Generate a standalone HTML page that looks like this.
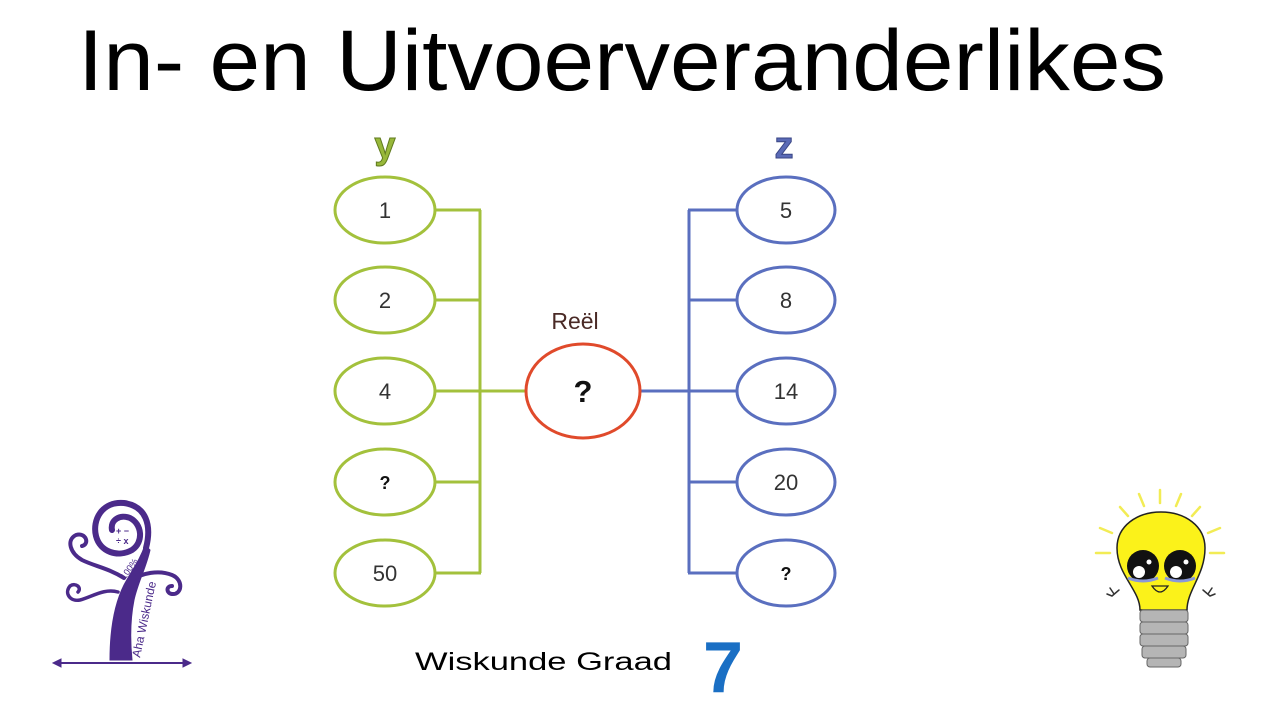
<!DOCTYPE html>
<html>
<head>
<meta charset="utf-8">
<style>
html,body{margin:0;padding:0;background:#fff;}
svg{display:block;}
text{font-family:"Liberation Sans",sans-serif;}
</style>
</head>
<body>
<svg width="1280" height="720" viewBox="0 0 1280 720" xmlns="http://www.w3.org/2000/svg">
<rect width="1280" height="720" fill="#fff"/>

<!-- Title -->
<text x="78" y="90" font-size="86" fill="#000" textLength="1088" lengthAdjust="spacingAndGlyphs">In- en Uitvoerveranderlikes</text>

<!-- Column labels -->
<text x="385" y="158" font-size="38" font-weight="bold" fill="#98b83a" stroke="#5f7a1e" stroke-width="1" text-anchor="middle">y</text>
<text x="784" y="158" font-size="38" font-weight="bold" fill="#5a6ab6" stroke="#3a4685" stroke-width="1" text-anchor="middle">z</text>

<!-- Green connectors -->
<g stroke="#a3c13c" stroke-width="3" fill="none">
  <line x1="480" y1="210" x2="480" y2="573"/>
  <line x1="435" y1="210" x2="481" y2="210"/>
  <line x1="435" y1="300" x2="481" y2="300"/>
  <line x1="435" y1="391" x2="526" y2="391"/>
  <line x1="435" y1="482" x2="481" y2="482"/>
  <line x1="435" y1="573" x2="481" y2="573"/>
</g>
<!-- Blue connectors -->
<g stroke="#5a6fbf" stroke-width="3" fill="none">
  <line x1="689" y1="210" x2="689" y2="573"/>
  <line x1="688" y1="210" x2="738" y2="210"/>
  <line x1="688" y1="300" x2="738" y2="300"/>
  <line x1="641" y1="391" x2="738" y2="391"/>
  <line x1="688" y1="482" x2="738" y2="482"/>
  <line x1="688" y1="573" x2="738" y2="573"/>
</g>

<!-- Left ellipses -->
<g stroke="#a3c13c" stroke-width="3" fill="#fff">
  <ellipse cx="385" cy="210" rx="50" ry="33"/>
  <ellipse cx="385" cy="300" rx="50" ry="33"/>
  <ellipse cx="385" cy="391" rx="50" ry="33"/>
  <ellipse cx="385" cy="482" rx="50" ry="33"/>
  <ellipse cx="385" cy="573" rx="50" ry="33"/>
</g>
<!-- Right ellipses -->
<g stroke="#5a6fbf" stroke-width="3" fill="#fff">
  <ellipse cx="786" cy="210" rx="49" ry="33"/>
  <ellipse cx="786" cy="300" rx="49" ry="33"/>
  <ellipse cx="786" cy="391" rx="49" ry="33"/>
  <ellipse cx="786" cy="482" rx="49" ry="33"/>
  <ellipse cx="786" cy="573" rx="49" ry="33"/>
</g>
<!-- Center ellipse -->
<ellipse cx="583" cy="391" rx="57" ry="47" stroke="#e04a2b" stroke-width="3" fill="#fff"/>

<!-- Labels -->
<g font-size="22" fill="#333" text-anchor="middle">
  <text x="385" y="218">1</text>
  <text x="385" y="308">2</text>
  <text x="385" y="399">4</text>
  <text x="385" y="581">50</text>
  <text x="786" y="218">5</text>
  <text x="786" y="308">8</text>
  <text x="786" y="399">14</text>
  <text x="786" y="490">20</text>
</g>
<text x="385" y="489" font-size="18" font-weight="bold" fill="#111" text-anchor="middle">?</text>
<text x="786" y="580" font-size="18" font-weight="bold" fill="#111" text-anchor="middle">?</text>
<text x="583" y="402" font-size="31" font-weight="bold" fill="#111" text-anchor="middle">?</text>
<text x="575" y="329" font-size="23" fill="#4a2a26" text-anchor="middle">Reël</text>

<!-- Bottom text -->
<text x="415" y="670" font-size="25" fill="#000" textLength="257" lengthAdjust="spacingAndGlyphs">Wiskunde Graad</text>
<text x="703" y="692" font-size="72" font-weight="bold" fill="#1a6fc4">7</text>

<!-- Tree logo -->
<g stroke="#4b2a8a" fill="none" stroke-linecap="round">
  <line x1="55" y1="663" x2="189" y2="663" stroke-width="2"/>
  <path d="M53 663 l8 -4 v8 z M191 663 l-8 -4 v8 z" fill="#4b2a8a" stroke-width="1"/>
  <!-- trunk (filled shape) -->
  <path d="M110 660 C110 630 114 605 124 585 C132 570 140 560 145 545 L150 550 C146 568 138 582 134 600 C130 620 130 640 132 660 Z" fill="#4b2a8a" stroke-width="1"/>
  <!-- big spiral -->
  <path d="M146 548 C152 525 146 506 124 503 C102 501 92 520 96 536 C100 552 118 558 132 550 C144 542 142 524 130 518 C120 514 110 520 112 530" stroke-width="6"/>
  <!-- left upper curl -->
  <path d="M124 578 C108 568 94 566 82 560 C70 553 66 540 76 535 C86 532 90 544 82 546" stroke-width="4"/>
  <!-- bottom left curl -->
  <path d="M118 592 C104 588 92 597 80 600 C70 602 64 593 70 586 C76 582 82 588 78 592" stroke-width="3.5"/>
  <!-- right curl -->
  <path d="M128 582 C142 572 160 570 172 575 C184 580 182 595 172 594 C166 593 166 586 172 586" stroke-width="4"/>
</g>
<text x="116" y="534" font-size="9" font-weight="bold" fill="#4b2a8a">+ −</text>
<text x="116" y="544" font-size="9" font-weight="bold" fill="#4b2a8a">÷ x</text>
<text transform="translate(140,658) rotate(-78)" font-size="12" fill="#4b2a8a">Aha Wiskunde</text>
<text transform="translate(125,580) rotate(-55)" font-size="9" fill="#4b2a8a">100%</text>

<!-- Lightbulb -->
<g stroke="#f2ec55" stroke-width="2.5" stroke-linecap="round">
  <line x1="1160" y1="490" x2="1160" y2="503"/>
  <line x1="1139" y1="494" x2="1144" y2="506"/>
  <line x1="1181" y1="494" x2="1176" y2="506"/>
  <line x1="1120" y1="507" x2="1128" y2="516"/>
  <line x1="1200" y1="507" x2="1192" y2="516"/>
  <line x1="1100" y1="528" x2="1112" y2="533"/>
  <line x1="1220" y1="528" x2="1208" y2="533"/>
  <line x1="1096" y1="553" x2="1110" y2="553"/>
  <line x1="1224" y1="553" x2="1210" y2="553"/>
</g>
<path d="M1140 610 C1140 590 1117 575 1117 548 C1117 526 1137 512 1161 512 C1185 512 1205 526 1205 548 C1205 575 1187 590 1187 610 Z" fill="#fbf21a" stroke="#222" stroke-width="1.5"/>
<g fill="#b5b5b5" stroke="#666" stroke-width="1">
  <rect x="1140" y="610" width="48" height="12" rx="3"/>
  <rect x="1140" y="622" width="48" height="12" rx="3"/>
  <rect x="1140" y="634" width="48" height="12" rx="3"/>
  <rect x="1142" y="646" width="44" height="12" rx="3"/>
  <rect x="1147" y="658" width="34" height="9" rx="3"/>
</g>
<circle cx="1143" cy="566" r="16" fill="#111"/>
<circle cx="1180" cy="566" r="16" fill="#111"/>
<circle cx="1139" cy="572" r="6" fill="#fff"/>
<circle cx="1176" cy="572" r="6" fill="#fff"/>
<circle cx="1149" cy="562" r="2.5" fill="#fff"/>
<circle cx="1186" cy="562" r="2.5" fill="#fff"/>
<path d="M1128 578 Q1143 584 1158 578" stroke="#8a98d8" stroke-width="3" fill="none"/>
<path d="M1165 578 Q1180 584 1195 578" stroke="#8a98d8" stroke-width="3" fill="none"/>
<path d="M1152 586 Q1160 598 1168 586 Z" fill="#fbf21a" stroke="#222" stroke-width="1.3"/>
<g stroke="#333" stroke-width="1.5" fill="none" stroke-linecap="round">
  <path d="M1119 590 L1112 596 M1114 594 L1110 588 M1112 596 L1107 594"/>
  <path d="M1203 590 L1210 596 M1208 594 L1212 588 M1210 596 L1215 594"/>
</g>
</svg>
</body>
</html>
